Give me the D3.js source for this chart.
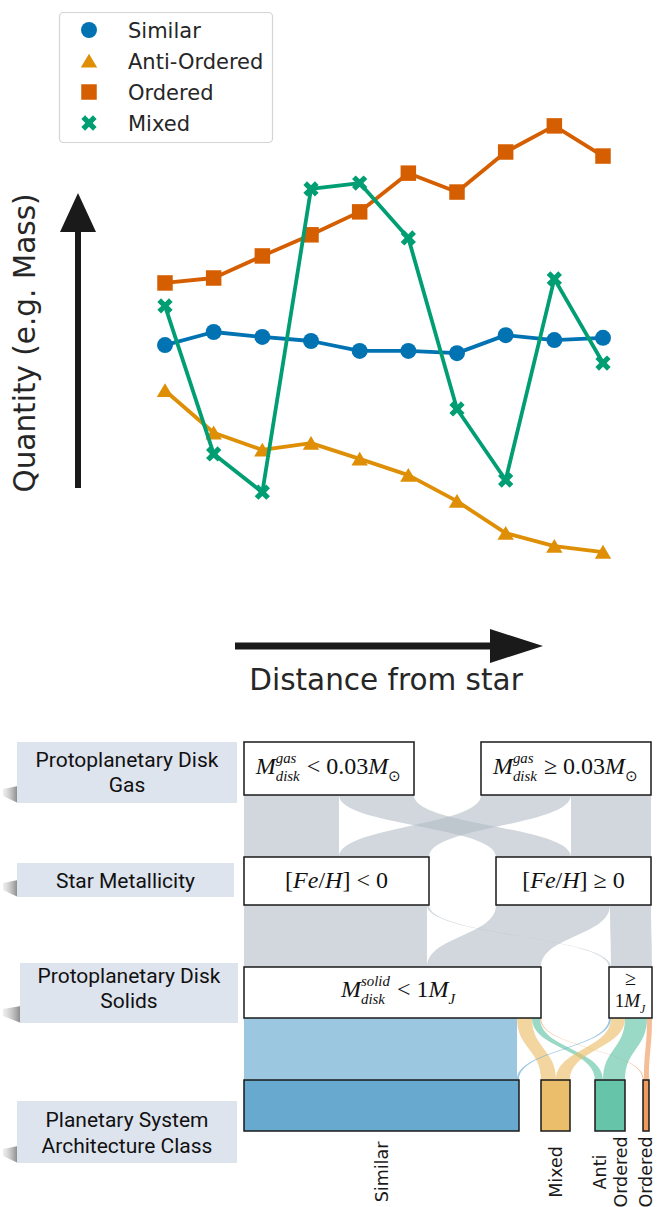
<!DOCTYPE html>
<html>
<head>
<meta charset="utf-8">
<script src="https://cdn.jsdelivr.net/npm/d3@7"></script>
<style>
  html, body { margin: 0; padding: 0; background: #ffffff; }
  svg { display: block; }
</style>
</head>
<body>
<script>
// ---------------- Schematic trend data (arbitrary units) ----------------
const distanceSteps = [1, 2, 3, 4, 5, 6, 7, 8, 9, 10];
const similarValues     = [5.11, 5.40, 5.29, 5.20, 4.98, 4.98, 4.93, 5.33, 5.22, 5.27];
const antiOrderedValues = [4.10, 3.16, 2.78, 2.93, 2.58, 2.22, 1.64, 0.93, 0.64, 0.51];
const orderedValues     = [6.49, 6.60, 7.09, 7.56, 8.07, 8.93, 8.51, 9.40, 9.98, 9.31];
const mixedValues       = [5.98, 2.69, 1.84, 8.58, 8.71, 7.49, 3.69, 2.11, 6.58, 4.71];
const seriesNames  = ["Similar", "Anti-Ordered", "Ordered", "Mixed"];
const seriesColors = ["#0173b2", "#de8f05", "#d55e00", "#029e73"];

// ---------------- Alluvial data (system counts) ----------------
const levelTitles = [["Protoplanetary Disk", "Gas"], ["Star Metallicity"],
                     ["Protoplanetary Disk", "Solids"], ["Planetary System", "Architecture Class"]];
// gas mass bin -> metallicity bin
const gasToFeh = [[95, 75], [90, 80]];
// metallicity bin -> solid mass bin
const fehToSolid = [[183, 2], [114, 41]];
// solid mass bin -> architecture class (Similar, Mixed, Anti-Ordered, Ordered)
const solidToClass = [[273, 15, 8, 1], [2, 14, 22, 5]];
const classNames  = [["Similar"], ["Mixed"], ["Anti", "Ordered"], ["Ordered"]];
const classColors = ["#67a9cf", "#ebbe6b", "#66c5a9", "#ef9b5f"];

const W = 657, H = 1207;
const svg = d3.select("body").append("svg").attr("width", W).attr("height", H);

// ================= Top panel: trends with distance =================
const x = d3.scaleLinear().domain([1, 10]).range([165, 603]);
const y = d3.scaleLinear().domain([0, 10]).range([575, 125]);
const allSeries = [similarValues, antiOrderedValues, orderedValues, mixedValues];

const triPath = "M0,-7.2L8.2,6.6L-8.2,6.6Z";
// filled "X" marker: a plus with thin-ish arms, rotated 45 degrees when drawn
const xArm = 2.6, xLen = 8.2;
const xPath = `M${-xArm},${-xLen}H${xArm}V${-xArm}H${xLen}V${xArm}H${xArm}V${xLen}H${-xArm}V${xArm}H${-xLen}V${-xArm}H${-xArm}Z`;
const markerPath = [
  d3.symbol(d3.symbolCircle, 200)(),
  triPath,
  d3.symbol(d3.symbolSquare, 240)(),
  xPath
];
const markerRotate = [0, 0, 0, 45];

const line = d3.line().x((d, i) => x(distanceSteps[i])).y(d => y(d));
const trendPanel = svg.append("g");
allSeries.forEach((vals, s) => {
  const g = trendPanel.append("g");
  g.append("path").attr("d", line(vals)).attr("fill", "none")
    .attr("stroke", seriesColors[s]).attr("stroke-width", 3.8).attr("stroke-linejoin", "round");
  g.selectAll("path.m").data(vals).join("path").attr("class", "m")
    .attr("d", markerPath[s]).attr("fill", seriesColors[s])
    .attr("transform", (d, i) => `translate(${x(distanceSteps[i])},${y(d)}) rotate(${markerRotate[s]})`);
});

// axis arrows
const ink = "#1a1a1a";
trendPanel.append("line").attr("x1", 78).attr("x2", 78).attr("y1", 488).attr("y2", 228)
  .attr("stroke", ink).attr("stroke-width", 6);
trendPanel.append("path").attr("d", "M78,193L60,232L96,232Z").attr("fill", ink);
trendPanel.append("line").attr("x1", 235).attr("x2", 494).attr("y1", 646).attr("y2", 646)
  .attr("stroke", ink).attr("stroke-width", 7);
trendPanel.append("path").attr("d", "M543,646L490,629L490,663Z").attr("fill", ink);

trendPanel.append("text").attr("transform", "translate(35,343) rotate(-90)")
  .attr("text-anchor", "middle").attr("font-family", "DejaVu Sans").attr("font-size", 29.5)
  .attr("fill", "#262626").text("Quantity (e.g. Mass)");
trendPanel.append("text").attr("x", 386).attr("y", 690)
  .attr("text-anchor", "middle").attr("font-family", "DejaVu Sans").attr("font-size", 29.5)
  .attr("fill", "#262626").text("Distance from star");

// legend
const leg = trendPanel.append("g");
leg.append("rect").attr("x", 59.5).attr("y", 12.5).attr("width", 213).attr("height", 130)
  .attr("rx", 4).attr("fill", "#fff").attr("fill-opacity", 0.8).attr("stroke", "#d4d4d4").attr("stroke-width", 1.2);
const legRows = [30, 61, 92, 123];
seriesNames.forEach((name, s) => {
  leg.append("path").attr("d", markerPath[s]).attr("fill", seriesColors[s])
    .attr("transform", `translate(89,${legRows[s]}) rotate(${markerRotate[s]})`);
  leg.append("text").attr("x", 128).attr("y", legRows[s] + 7.5)
    .attr("font-family", "DejaVu Sans").attr("font-size", 21).attr("fill", "#262626").text(name);
});

// ================= Bottom panel: alluvial diagram =================
const total = d3.sum(gasToFeh.flat());
const u = d3.scaleLinear().domain([0, total]).range([0, 340]);
const x0 = 244;
const rows = [[742, 795], [857, 905], [967, 1018], [1080, 1131]];
const levelGaps = [[67], [67], [68], [22, 25, 18]];

const rowSums = m => m.map(r => d3.sum(r));
const colSums = m => m[0].map((_, j) => d3.sum(m, r => r[j]));
const levelValues = [rowSums(gasToFeh), colSums(gasToFeh), colSums(fehToSolid), colSums(solidToClass)];

// node extents per level
const nodes = levelValues.map((vals, L) => {
  let cx = x0;
  return vals.map((v, i) => {
    const n = { x0: cx, x1: cx + u(v), value: v };
    cx = n.x1 + (i < vals.length - 1 ? levelGaps[L][i] : 0);
    return n;
  });
});

// ribbons between consecutive levels
const matrices = [gasToFeh, fehToSolid, solidToClass];
const ribbons = svg.append("g");
matrices.forEach((m, L) => {
  const src = nodes[L], tgt = nodes[L + 1];
  const yA = rows[L][1], yB = rows[L + 1][0], yM = (yA + yB) / 2;
  const srcOff = src.map(n => n.x0), tgtOff = tgt.map(n => n.x0);
  const links = [];
  m.forEach((row, i) => row.forEach((v, j) => {
    links.push({ i, j, v, s0: 0, t0: 0 });
  }));
  // stack by target at source, by source at target
  links.sort((a, b) => a.i - b.i || a.j - b.j).forEach(l => { l.s0 = srcOff[l.i]; srcOff[l.i] += u(l.v); });
  links.slice().sort((a, b) => a.j - b.j || a.i - b.i).forEach(l => { l.t0 = tgtOff[l.j]; tgtOff[l.j] += u(l.v); });
  links.forEach(l => {
    const w = u(l.v), s0 = l.s0, s1 = s0 + w, t0 = l.t0, t1 = t0 + w;
    const p = d3.path();
    p.moveTo(s0, yA);
    p.bezierCurveTo(s0, yM, t0, yM, t0, yB);
    p.lineTo(t1, yB);
    p.bezierCurveTo(t1, yM, s1, yM, s1, yA);
    p.closePath();
    const last = L === matrices.length - 1;
    ribbons.append("path").attr("d", p.toString())
      .attr("fill", last ? classColors[l.j] : "#b3bcc5")
      .attr("fill-opacity", last ? 0.65 : 0.6);
  });
});

// node boxes
const boxes = svg.append("g");
nodes.forEach((lvl, L) => lvl.forEach((n, i) => {
  boxes.append("rect").attr("x", n.x0).attr("y", rows[L][0])
    .attr("width", n.x1 - n.x0).attr("height", rows[L][1] - rows[L][0])
    .attr("fill", L === 3 ? classColors[i] : "#ffffff")
    .attr("stroke", "#1a1a1a").attr("stroke-width", 1.5);
}));

// math-style box labels: italic symbols with stacked super/subscripts
const serif = "Liberation Serif, Times New Roman, serif";
function mathLabel(parts, cx, base, size) {
  const g = boxes.append("g").attr("font-family", serif).attr("fill", "#111");
  let cur = 0;
  const piece = (txt, px, py, fs, italic) => {
    const t = g.append("text").attr("xml:space", "preserve").attr("x", px).attr("y", py)
      .attr("font-size", fs).attr("font-style", italic ? "italic" : "normal").text(txt);
    return t.node().getComputedTextLength();
  };
  parts.forEach(p => {
    if (p.sup !== undefined || p.sub !== undefined) {
      const fs = size * 0.62;
      let w = 0;
      if (p.sup) w = Math.max(w, piece(p.sup, cur, -size * 0.46, fs, true));
      if (p.sub) w = Math.max(w, piece(p.sub, cur, size * 0.3, fs, !p.up));
      cur += w + 1;
    } else {
      cur += piece(p.t, cur, 0, size, p.i);
    }
  });
  g.attr("transform", `translate(${cx - cur / 2},${base})`);
}
const mid = n => (n.x0 + n.x1) / 2;
mathLabel([{ t: "M", i: true }, { sup: "gas", sub: "disk" }, { t: " < 0.03" }, { t: "M", i: true }, { sub: "\u2299", up: true }],
  mid(nodes[0][0]), rows[0][0] + 32, 24);
mathLabel([{ t: "M", i: true }, { sup: "gas", sub: "disk" }, { t: " \u2265 0.03" }, { t: "M", i: true }, { sub: "\u2299", up: true }],
  mid(nodes[0][1]), rows[0][0] + 32, 24);
mathLabel([{ t: "[" }, { t: "Fe", i: true }, { t: "/" }, { t: "H", i: true }, { t: "] < 0" }],
  mid(nodes[1][0]), rows[1][0] + 31, 24);
mathLabel([{ t: "[" }, { t: "Fe", i: true }, { t: "/" }, { t: "H", i: true }, { t: "] \u2265 0" }],
  mid(nodes[1][1]), rows[1][0] + 31, 24);
mathLabel([{ t: "M", i: true }, { sup: "solid", sub: "disk" }, { t: " < 1" }, { t: "M", i: true }, { sub: "J" }],
  mid(nodes[2][0]) + 6, rows[2][0] + 30, 24);
mathLabel([{ t: "\u2265" }], mid(nodes[2][1]), rows[2][0] + 18, 20);
mathLabel([{ t: "1" }, { t: "M", i: true }, { sub: "J" }], mid(nodes[2][1]), rows[2][0] + 40, 19);

// class labels under the bottom row
nodes[3].forEach((n, i) => {
  const lines = classNames[i];
  const t = boxes.append("text").attr("transform", `translate(${mid(n)},1172) rotate(-90)`)
    .attr("text-anchor", "middle").attr("font-family", "DejaVu Sans").attr("font-size", 17.5).attr("fill", "#1a1a1a");
  lines.forEach((s, k) => {
    t.append("tspan").attr("x", 0).attr("y", (k - (lines.length - 1) / 2) * 21 + 6).text(s);
  });
});

// level title tags on the left
const defs = svg.append("defs");
const grad = defs.append("linearGradient").attr("id", "tagShade").attr("x1", "0").attr("x2", "1").attr("y1", "0").attr("y2", "0");
grad.append("stop").attr("offset", "0").attr("stop-color", "#c8c8c8").attr("stop-opacity", 0.3);
grad.append("stop").attr("offset", "1").attr("stop-color", "#7d7d7d").attr("stop-opacity", 0.95);

const tagBoxes = [[17, 742, 237, 803], [17, 863, 234, 897], [20, 963, 238, 1023], [17, 1101, 237, 1163]];
const tagBase = [[766.5, 792], [888], [982.5, 1008], [1127, 1152.5]];
const tags = svg.append("g");
levelTitles.forEach((lines, k) => {
  const [bx0, by0, bx1, by1] = tagBoxes[k];
  tags.append("path")
    .attr("d", `M3,${by1 - 14}L${bx0 + 1},${by1 - 17}L${bx0 + 1},${by1}L3,${by1 - 7}Z`)
    .attr("fill", "url(#tagShade)");
  tags.append("rect").attr("x", bx0).attr("y", by0).attr("width", bx1 - bx0).attr("height", by1 - by0)
    .attr("fill", "#dee4ee");
  lines.forEach((s, j) => {
    tags.append("text").attr("x", (bx0 + bx1) / 2).attr("y", tagBase[k][j])
      .attr("text-anchor", "middle").attr("font-family", "Roboto").attr("font-size", 21)
      .attr("fill", "#111111").text(s);
  });
});
</script>
</body>
</html>
